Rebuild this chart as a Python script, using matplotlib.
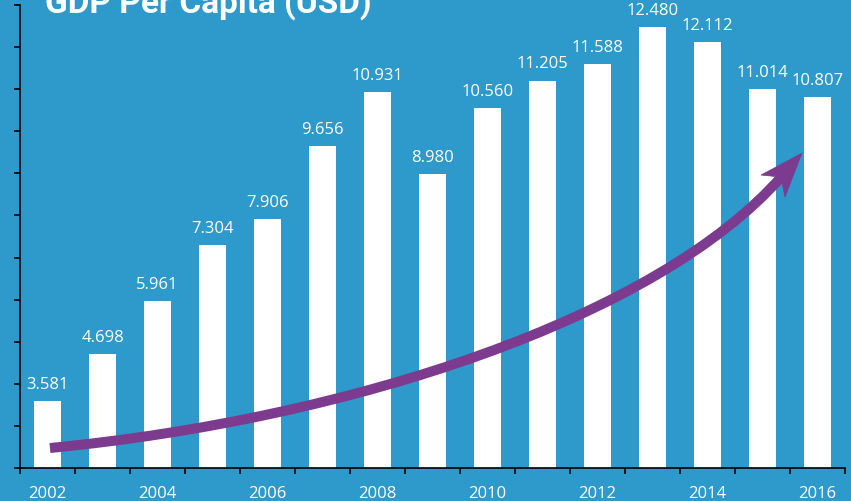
import matplotlib
matplotlib.use("Agg")
import matplotlib.pyplot as plt
from matplotlib.path import Path
from matplotlib.patches import PathPatch, Polygon

# ---- data ----
years = [2002, 2003, 2004, 2005, 2006, 2007, 2008, 2009, 2010,
         2011, 2012, 2013, 2014, 2015, 2016]
gdp = [3.581, 4.698, 5.961, 7.304, 7.906, 9.656, 10.931, 8.980, 10.560,
       11.205, 11.588, 12.480, 12.112, 11.014, 10.807]
value_labels = ["3.581", "4.698", "5.961", "7.304", "7.906", "9.656", "10.931",
                "8.980", "10.560", "11.205", "11.588", "12.480", "12.112",
                "11.014", "10.807"]
shown_years = ["2002", "2004", "2006", "2008", "2010", "2012", "2014", "2016"]
title = "GDP Per Capita (USD)"

# decorative trend arrow (data units: category index, value)
arrow_x = [0.045, 5.5, 11.082, 13.355]
arrow_y = [2.475, 3.164, 5.551, 8.936]
head_x = [13.718, 12.973, 13.336, 13.409]
head_y = [9.482, 8.960, 8.912, 8.437]

BG = "#2E9ACB"
PURPLE = "#7D3B8F"

W, H = 851, 502
fig = plt.figure(figsize=(W / 100, H / 100), dpi=100, facecolor=BG)
ax = fig.add_axes([20 / W, (H - 469) / H, 825 / W, 463 / H])
ax.set_facecolor(BG)

x = list(range(len(years)))
ax.bar(x, [v - 2 for v in gdp], bottom=2, width=0.473, color="white", zorder=2)
ax.set_xlim(-0.5, len(years) - 0.5)
ax.set_ylim(2, 13)

for xi, v, lab in zip(x, gdp, value_labels):
    ax.annotate(lab, xy=(xi, v), xytext=(0, 9.4), textcoords="offset points",
                ha="center", va="baseline", color="white", fontsize=12,
                family="Open Sans", zorder=4)

# axes styling
for s in ["top", "right"]:
    ax.spines[s].set_visible(False)
for s in ["left", "bottom"]:
    ax.spines[s].set_color("black")
    ax.spines[s].set_linewidth(1.2)

ax.set_yticks(range(2, 14))
ax.set_yticklabels([])
ax.tick_params(axis="y", direction="out", length=4.5, width=1.2, color="black")

ax.set_xticks([i - 0.5 for i in range(len(years) + 1)])
ax.set_xticklabels([])
ax.tick_params(axis="x", which="major", direction="out", length=4.5, width=1.2,
               color="black")
ax.set_xticks(x[::2], minor=True)
ax.set_xticklabels(shown_years, minor=True)
ax.tick_params(axis="x", which="minor", length=0, pad=20.9, labelcolor="white",
               labelsize=12)
for lab in ax.get_xticklabels(minor=True):
    lab.set_family("Open Sans")
    lab.set_va("baseline")

# arrow
verts = list(zip(arrow_x, arrow_y))
path = Path(verts, [Path.MOVETO, Path.CURVE4, Path.CURVE4, Path.CURVE4])
ax.add_patch(PathPatch(path, facecolor="none", edgecolor=PURPLE, lw=7.2,
                       capstyle="butt", zorder=5))
ax.add_patch(Polygon(list(zip(head_x, head_y)), closed=True, facecolor=PURPLE,
                     edgecolor=PURPLE, lw=0.5, zorder=6))

fig.text(45 / W, 1 - 13 / H, title, color="white", fontsize=24,
         fontweight="bold", family="Roboto", ha="left", va="baseline")

fig.savefig("out.png", dpi=100, facecolor=BG)
